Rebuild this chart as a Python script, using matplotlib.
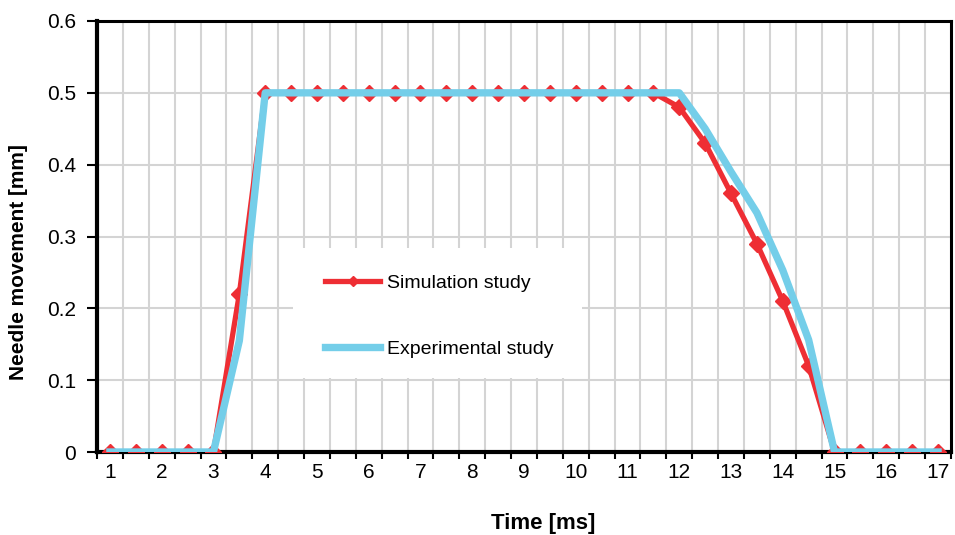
import matplotlib
matplotlib.use("Agg")
import matplotlib.pyplot as plt
from matplotlib.patches import Rectangle

plt.rcParams['font.family'] = ['Liberation Sans', 'DejaVu Sans']

time_ms = [1, 1.5, 2, 2.5, 3, 3.5, 4, 4.5, 5, 5.5, 6, 6.5, 7, 7.5, 8, 8.5, 9,
           9.5, 10, 10.5, 11, 11.5, 12, 12.5, 13, 13.5, 14, 14.5, 15, 15.5, 16, 16.5, 17]
simulation = [0, 0, 0, 0, 0, 0.22, 0.5, 0.5, 0.5, 0.5, 0.5, 0.5, 0.5, 0.5, 0.5, 0.5, 0.5,
              0.5, 0.5, 0.5, 0.5, 0.5, 0.48, 0.43, 0.36, 0.29, 0.21, 0.12, 0, 0, 0, 0, 0]
experimental = [0, 0, 0, 0, 0, 0.155, 0.5, 0.5, 0.5, 0.5, 0.5, 0.5, 0.5, 0.5, 0.5, 0.5, 0.5,
                0.5, 0.5, 0.5, 0.5, 0.5, 0.5, 0.45, 0.39, 0.333, 0.253, 0.156, 0, 0, 0, 0, 0]
xtick_labels = [str(i) for i in range(1, 18)]
yticks = [0, 0.1, 0.2, 0.3, 0.4, 0.5, 0.6]
ytick_labels = ['0', '0.1', '0.2', '0.3', '0.4', '0.5', '0.6']

W, H = 955, 535
fig = plt.figure(figsize=(W / 100, H / 100), dpi=100)
L, R, T, B = 97, 951, 21, 452
ax = fig.add_axes([L / W, 1 - B / H, (R - L) / W, (B - T) / H])

idx = list(range(len(time_ms)))
red = '#EE2E34'
blue = '#74CEE9'

ax.plot(idx, simulation, color=red, lw=3.8, marker='D', ms=8, mec=red, mfc=red,
        zorder=4, label='Simulation study')
ax.plot(idx, experimental, color=blue, lw=5.3, zorder=5, label='Experimental study')

ax.set_xlim(-0.5, len(idx) - 0.5)
ax.set_ylim(0, 0.6)

bounds = [k - 0.5 for k in range(len(idx) + 1)]
ax.set_xticks(bounds, minor=False)
ax.set_xticklabels([])
ax.set_xticks([k for k in idx if k % 2 == 0], minor=True)
ax.set_xticklabels(xtick_labels, minor=True, fontsize=15)
ax.tick_params(axis='x', which='minor', length=0, pad=8)
ax.tick_params(axis='x', which='major', length=5, width=1.5, direction='out')
ax.set_yticks(yticks)
ax.set_yticklabels(ytick_labels, fontsize=15)
ax.tick_params(axis='y', length=7, width=1.5, direction='out', pad=8)

ax.grid(True, which='major', color='#d4d4d4', lw=1.5, zorder=0)
ax.set_axisbelow(True)
for s in ax.spines.values():
    s.set_linewidth(2.2)
    s.set_color('black')
ax.spines['left'].set_linewidth(3)
ax.spines['bottom'].set_linewidth(3)

x0 = (293 - L) / (R - L); x1 = (582 - L) / (R - L)
y0 = (B - 378) / (B - T); y1 = (B - 248) / (B - T)
ax.add_patch(Rectangle((x0, y0), x1 - x0, y1 - y0, transform=ax.transAxes,
                       facecolor='white', edgecolor='none', zorder=2))

leg = ax.legend(loc='upper left', bbox_to_anchor=((325 - L) / (R - L), (B - 274) / (B - T)),
                frameon=False, fontsize=14, handlelength=2.85, labelspacing=2.5,
                handletextpad=0.35, borderpad=0, borderaxespad=0, markerscale=0.6)
leg.set_zorder(6)

ax.set_xlabel('Time [ms]', fontsize=16, fontweight='bold')
ax.xaxis.set_label_coords((543 - L) / (R - L), -(513 - B) / (B - T))
ax.set_ylabel('Needle movement [mm]', fontsize=15, fontweight='bold')
ax.yaxis.set_label_coords(-(97 - 28) / (R - L), (B - 262) / (B - T))

fig.savefig('out.png', dpi=100)
